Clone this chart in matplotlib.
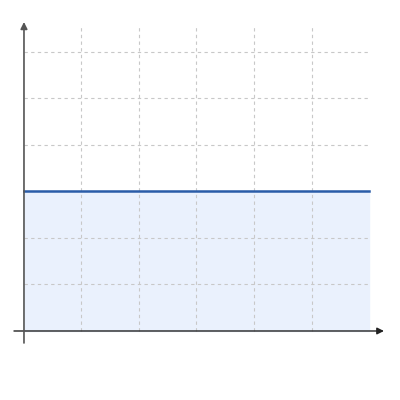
import numpy as np
import matplotlib.pyplot as plt

# data: a constant series over x = 0..6
x = [0, 6]
y = [3, 3]
grid_x = [1, 2, 3, 4, 5]
grid_y = [1, 2, 3, 4, 5, 6]

fig = plt.figure(figsize=(4, 4), dpi=100)
ax = fig.add_axes([0, 0, 1, 1])
ax.set_xlim(-0.417, 6.539)
ax.set_ylim(-1.484, 7.118)
ax.axis('off')

# dashed grid, clipped to the plot area
ax.vlines(grid_x, 0, 6.58, colors='#c8c8c8', linestyles=(0, (3, 3)), linewidth=0.8, zorder=1)
ax.hlines(grid_y, 0, 6.0, colors='#c8c8c8', linestyles=(0, (3, 3)), linewidth=0.8, zorder=1)

ax.fill_between(x, y, 0, color='#eaf1fd', zorder=0)
ax.plot(x, y, color='#2a5ca8', linewidth=1.8, zorder=3)

# axes with arrow heads
ax.annotate('', xy=(6.26, 0), xytext=(-0.174, 0),
            arrowprops=dict(arrowstyle='-|>', color='#222222', lw=1.0,
                            mutation_scale=10, shrinkA=0, shrinkB=0), zorder=4)
ax.annotate('', xy=(0, 6.645), xytext=(0, -0.258),
            arrowprops=dict(arrowstyle='-|>', color='#555555', lw=1.2,
                            mutation_scale=10, shrinkA=0, shrinkB=0), zorder=4)

plt.savefig('out.png', dpi=100)
